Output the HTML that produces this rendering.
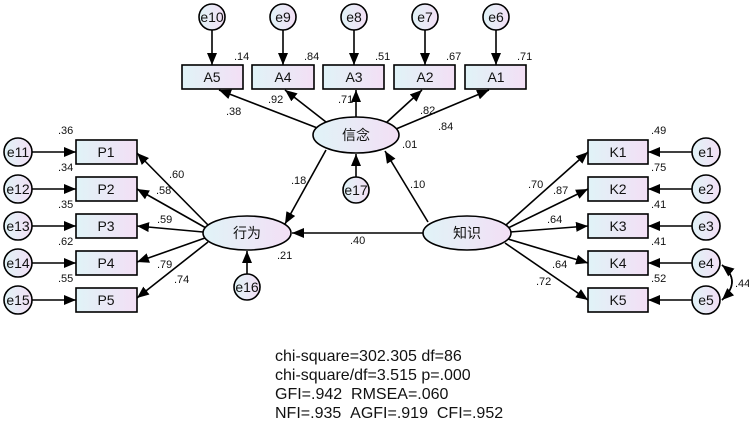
<!DOCTYPE html>
<html><head><meta charset="utf-8"><style>
html,body{margin:0;padding:0;background:#fff;}
svg{display:block;}
text{font-family:"Liberation Sans","Noto Sans CJK SC",sans-serif;fill:#111;}
.l{font-size:11px;}
.n{font-size:14px;text-anchor:middle;}
.s{font-size:16px;}
</style></head><body>
<svg width="749" height="421" viewBox="0 0 749 421" xmlns="http://www.w3.org/2000/svg">
<defs>
<linearGradient id="g" x1="0" y1="0" x2="1" y2="0">
<stop offset="0" stop-color="#e0f3f7"/><stop offset="1" stop-color="#f3dff5"/></linearGradient>
<marker id="a" markerUnits="userSpaceOnUse" markerWidth="12" markerHeight="10" refX="12" refY="5" orient="auto"><path d="M0,0 L12,5 L0,10 z" fill="#000"/></marker>
</defs>
<g stroke="#000" stroke-width="1.6" fill="none" marker-end="url(#a)">
<line x1="212" y1="30" x2="212" y2="65"/><line x1="283" y1="30" x2="283" y2="65"/><line x1="354" y1="30" x2="354" y2="65"/><line x1="425" y1="30" x2="425" y2="65"/><line x1="496" y1="30" x2="496" y2="65"/>
<line x1="320" y1="129" x2="219" y2="90"/><line x1="326" y1="122" x2="285" y2="90"/><line x1="356" y1="117" x2="356" y2="90"/><line x1="387" y1="122" x2="422" y2="90"/><line x1="396" y1="129" x2="489" y2="90"/>
<line x1="326" y1="150" x2="285" y2="224"/><line x1="428" y1="222" x2="385" y2="151"/><line x1="356" y1="177" x2="356" y2="154"/>
<line x1="423" y1="233" x2="292" y2="233"/><line x1="247" y1="274" x2="247" y2="251"/>
<line x1="208" y1="225" x2="137" y2="153"/><line x1="206" y1="228" x2="137" y2="189"/><line x1="203" y1="232" x2="137" y2="226"/><line x1="205" y1="238" x2="137" y2="262"/><line x1="208" y1="242" x2="137" y2="298"/>
<line x1="32" y1="152" x2="76" y2="152"/><line x1="32" y1="189" x2="76" y2="189"/><line x1="32" y1="226" x2="76" y2="226"/><line x1="32" y1="263" x2="76" y2="263"/><line x1="32" y1="300" x2="76" y2="300"/>
<line x1="506" y1="225" x2="588" y2="152"/><line x1="508" y1="228" x2="588" y2="189"/><line x1="510" y1="232" x2="588" y2="226"/><line x1="508" y1="239" x2="588" y2="263"/><line x1="505" y1="243" x2="588" y2="300"/>
<line x1="692" y1="152" x2="648" y2="152"/><line x1="692" y1="189" x2="648" y2="189"/><line x1="692" y1="226" x2="648" y2="226"/><line x1="692" y1="263" x2="648" y2="263"/><line x1="692" y1="300" x2="648" y2="300"/>
<path d="M722,300 Q742,281 722,265" /><path d="M722,265 Q742,281 722,300"/>
</g>
<g stroke="#000" stroke-width="1.6" fill="url(#g)">
<rect x="182" y="65" width="61" height="24"/><rect x="252" y="65" width="62" height="24"/><rect x="323" y="65" width="61" height="24"/><rect x="394" y="65" width="61" height="24"/><rect x="465" y="65" width="61" height="24"/>
<rect x="76" y="140" width="61" height="24"/><rect x="76" y="177" width="61" height="24"/><rect x="76" y="214" width="61" height="24"/><rect x="76" y="251" width="61" height="24"/><rect x="76" y="288" width="61" height="24"/>
<rect x="588" y="140" width="60" height="24"/><rect x="588" y="177" width="60" height="24"/><rect x="588" y="214" width="60" height="24"/><rect x="588" y="251" width="60" height="24"/><rect x="588" y="288" width="60" height="24"/>
<ellipse cx="356" cy="135" rx="43" ry="18"/><ellipse cx="247" cy="233" rx="44" ry="17"/><ellipse cx="467" cy="233" rx="44" ry="17"/>
<circle cx="212" cy="17" r="13"/><circle cx="283" cy="17" r="13"/><circle cx="354" cy="17" r="13"/><circle cx="425" cy="17" r="13"/><circle cx="496" cy="17" r="13"/>
<circle cx="18" cy="152" r="14"/><circle cx="18" cy="189" r="14"/><circle cx="18" cy="226" r="14"/><circle cx="18" cy="263" r="14"/><circle cx="18" cy="300" r="14"/>
<circle cx="706" cy="152" r="14"/><circle cx="706" cy="189" r="14"/><circle cx="706" cy="226" r="14"/><circle cx="706" cy="263" r="14"/><circle cx="706" cy="300" r="14"/>
<circle cx="356" cy="190" r="13"/><circle cx="247" cy="287" r="13"/>
</g>
<g class="n">
<text x="212" y="22">e10</text><text x="283" y="22">e9</text><text x="354" y="22">e8</text><text x="425" y="22">e7</text><text x="496" y="22">e6</text>
<text x="212" y="82">A5</text><text x="283" y="82">A4</text><text x="354" y="82">A3</text><text x="425" y="82">A2</text><text x="496" y="82">A1</text>
<text x="106" y="157">P1</text><text x="106" y="194">P2</text><text x="106" y="231">P3</text><text x="106" y="268">P4</text><text x="106" y="305">P5</text>
<text x="618" y="157">K1</text><text x="618" y="194">K2</text><text x="618" y="231">K3</text><text x="618" y="268">K4</text><text x="618" y="305">K5</text>
<text x="18" y="157">e11</text><text x="18" y="194">e12</text><text x="18" y="231">e13</text><text x="18" y="268">e14</text><text x="18" y="305">e15</text>
<text x="706" y="157">e1</text><text x="706" y="194">e2</text><text x="706" y="231">e3</text><text x="706" y="268">e4</text><text x="706" y="305">e5</text>
<text x="356" y="195">e17</text><text x="247" y="292">e16</text>
<text x="356" y="140">信念</text><text x="247" y="238">行为</text><text x="467" y="238">知识</text>
</g>
<g class="l">
<text x="234" y="60">.14</text><text x="304" y="60">.84</text><text x="375" y="60">.51</text><text x="446" y="60">.67</text><text x="517" y="60">.71</text>
<text x="226" y="115">.38</text><text x="268" y="103">.92</text><text x="338" y="103">.71</text><text x="420" y="114">.82</text><text x="438" y="130">.84</text><text x="402" y="148">.01</text>
<text x="291" y="184">.18</text><text x="410" y="188">.10</text><text x="350" y="244">.40</text><text x="277" y="259">.21</text>
<text x="169" y="178">.60</text><text x="156" y="194">.58</text><text x="157" y="223">.59</text><text x="157" y="268">.79</text><text x="174" y="283">.74</text>
<text x="58" y="134">.36</text><text x="58" y="171">.34</text><text x="58" y="208">.35</text><text x="58" y="245">.62</text><text x="58" y="282">.55</text>
<text x="651" y="134">.49</text><text x="651" y="171">.75</text><text x="651" y="208">.41</text><text x="651" y="245">.41</text><text x="651" y="282">.52</text>
<text x="528" y="188">.70</text><text x="553" y="194">.87</text><text x="547" y="223">.64</text><text x="552" y="268">.64</text><text x="536" y="285">.72</text>
<text x="735" y="287">.44</text>
</g>
<g class="s">
<text x="275" y="361">chi-square=302.305 df=86</text>
<text x="275" y="380">chi-square/df=3.515 p=.000</text>
<text x="275" y="399">GFI=.942&#160;&#160;RMSEA=.060</text>
<text x="275" y="418">NFI=.935&#160;&#160;AGFI=.919&#160;&#160;CFI=.952</text>
</g>
</svg>
</body></html>
